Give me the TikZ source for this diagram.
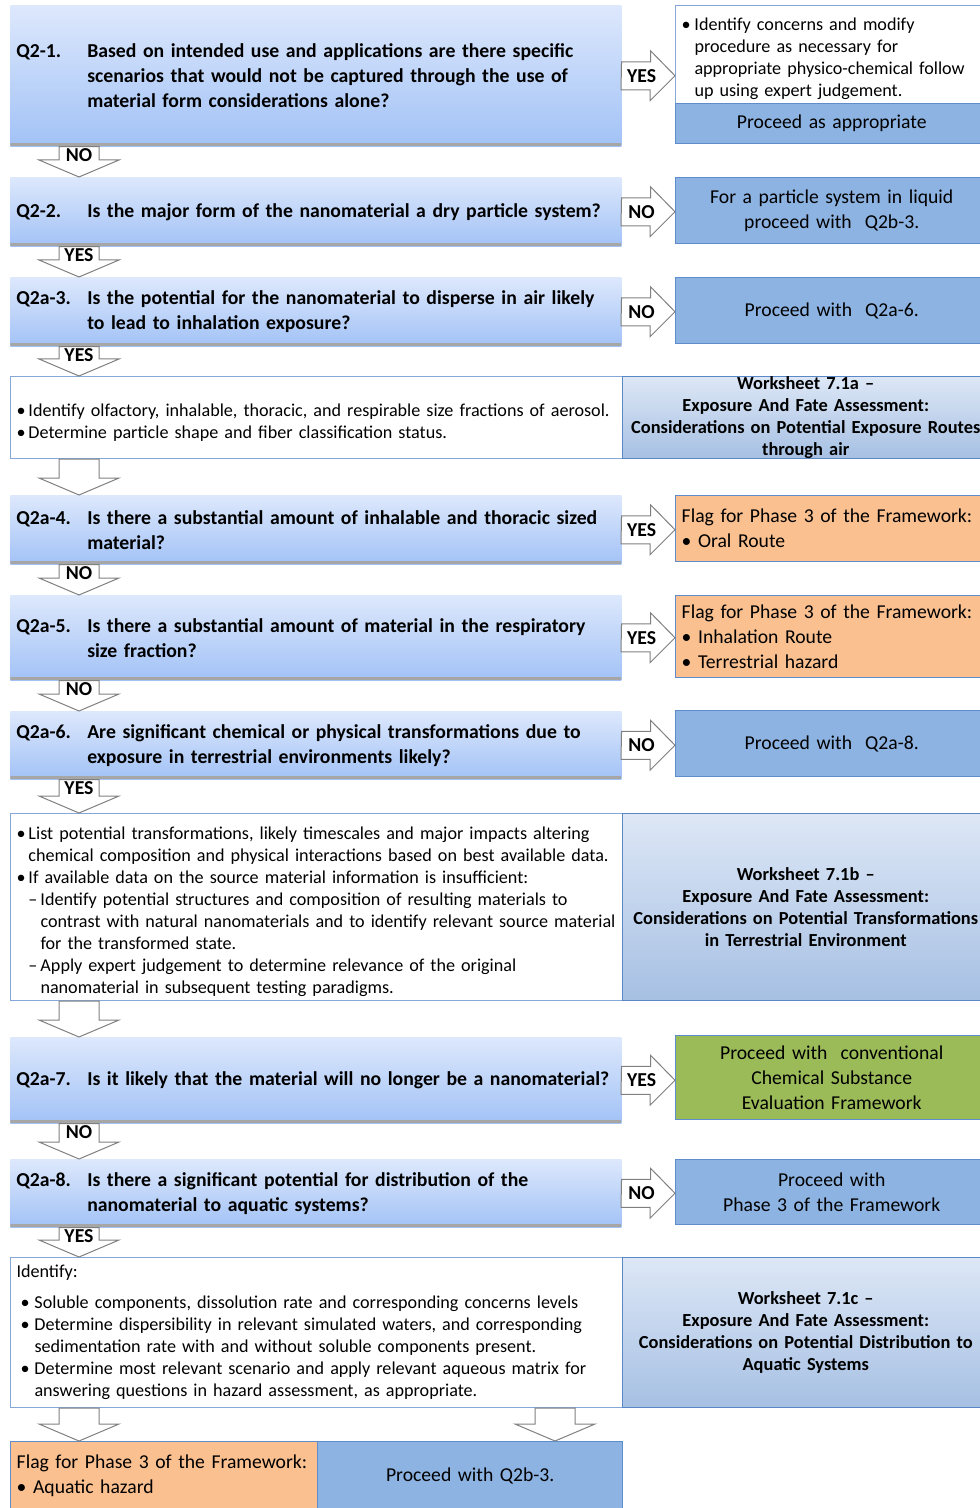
\documentclass[tikz,border=0pt]{standalone}
\usepackage{fontspec}
\setmainfont{Carlito}

\definecolor{qtop}{HTML}{DDE8FC}
\definecolor{qbot}{HTML}{A2C2F6}
\definecolor{shadowgray}{HTML}{A6A6A6}
\definecolor{rblue}{HTML}{8DB3E2}
\definecolor{rborder}{HTML}{5F8DCB}
\definecolor{rorange}{HTML}{FAC08F}
\definecolor{rgreen}{HTML}{9BBB59}
\definecolor{wtop}{HTML}{DDE7F6}
\definecolor{wbot}{HTML}{A6C0E3}
\definecolor{wborder}{HTML}{5A88C6}
\definecolor{iborder}{HTML}{86A8D8}
\definecolor{arrgray}{HTML}{808080}

%% Fonts
\newcommand{\qfont}{\fontsize{14.8}{18.75}\selectfont\bfseries}
\newcommand{\rfont}{\fontsize{14.75}{18.75}\selectfont}
\newcommand{\ifont}{\fontsize{13.6}{16.5}\selectfont}
\newcommand{\wfont}{\fontsize{13.8}{16.5}\selectfont\bfseries}
\newcommand{\lfont}{\fontsize{14.8}{15}\selectfont\bfseries}

%% Question text with hanging number
\newcommand{\qtext}[2]{{\let\\\newline\hangindent=53.25pt\hangafter=1\noindent
  \makebox[53.25pt][l]{#1}#2\par}}
%% List item: indent, mark width, mark, text
\newcommand{\litem}[4]{\par{\let\\\newline\hangindent=\dimexpr#1+#2\relax\hangafter=1\noindent
  \hspace*{#1}\makebox[#2][l]{#3}#4\par}}

%% Block arrow down: from, to, column, label
\newcommand{\darr}[4]{%
  \coordinate (da) at (#3 |- #1.south);
  \coordinate (db) at (#3 |- #2.north);
  \draw[blockarr] ([xshift=-15pt]da) -- ([xshift=-15pt,yshift=12.75pt]db) -- ++(-20,0)
    -- (db) -- ++(40,-17) -- ++(-20,0) -- ([xshift=15pt]da) -- cycle;
  \if\relax\detokenize{#4}\relax\else
    \node[arrlabel, anchor=north] at (da) {#4};
  \fi}
%% Block arrow right: from, to, label
\newcommand{\rarr}[3]{%
  \draw[blockarr] ([yshift=10.5pt]#1.east) -- ++(29,0) -- ++(0,-11) -- (#2.west |- #1.east)
    -- ++(-25,25) -- ++(0,-11) -- ++(-29,0) -- cycle;
  \node[arrlabel] at ([xshift=15pt]#1.east) {#3};}

\begin{document}
\begin{tikzpicture}[x=0.75pt, y=-0.75pt,
    qbox/.style={anchor=north west, minimum width=458.25pt, text width=449.25pt,
      inner xsep=4.5pt, inner ysep=0pt, align=left, font=\qfont,
      top color=qtop, bottom color=qbot,
      path picture={\fill[shadowgray] ([yshift=2.25pt]path picture bounding box.south west)
        rectangle (path picture bounding box.south east);}},
    rbox/.style={anchor=north west, minimum width=234pt, text width=225pt,
      inner xsep=4.5pt, inner ysep=0pt, align=center, font=\rfont,
      fill=rblue, draw=rborder, line width=1.1pt},
    ibox/.style={anchor=north west, minimum width=459pt, text width=450pt,
      inner xsep=4.5pt, inner ysep=0pt, align=left, font=\ifont,
      fill=white, draw=iborder, line width=0.75pt},
    wbox/.style={anchor=north west, minimum width=274.5pt, text width=270pt,
      inner xsep=2.25pt, inner ysep=0pt, align=center, font=\wfont,
      top color=wtop, bottom color=wbot, draw=wborder, line width=1.1pt},
    blockarr/.style={fill=white, draw=arrgray, line width=0.75pt, line join=miter},
    arrlabel/.style={font=\lfont, inner sep=1pt}]

  %% Page
  \useasboundingbox (0,0) rectangle (979,1508);
  \fill[white] (0,0) rectangle (979,1508);
  \coordinate (colL) at (79,0);
  \coordinate (colR) at (555,0);

  %% Questions
  \node[qbox, minimum height=105.75pt] (q1) at (10,5)
    {\qtext{Q2-1.}{Based on intended use and applications are there specific\\
     scenarios that would not be captured through the use of\\
     material form considerations alone?}};
  \node[qbox, minimum height=51.75pt] (q2) at (10,177)
    {\qtext{Q2-2.}{Is the major form of the nanomaterial a dry particle system?}};
  \node[qbox, minimum height=51.75pt] (q3) at (10,277)
    {\qtext{Q2a-3.}{Is the potential for the nanomaterial to disperse in air likely\\
     to lead to inhalation exposure?}};
  \node[qbox, minimum height=51.75pt] (q4) at (10,495)
    {\qtext{Q2a-4.}{Is there a substantial amount of inhalable and thoracic sized\\
     material?}};
  \node[qbox, minimum height=63.75pt] (q5) at (10,595)
    {\qtext{Q2a-5.}{Is there a substantial amount of material in the respiratory\\
     size fraction?}};
  \node[qbox, minimum height=51pt] (q6) at (10,711)
    {\qtext{Q2a-6.}{Are significant chemical or physical transformations due to\\
     exposure in terrestrial environments likely?}};
  \node[qbox, minimum height=64.5pt] (q7) at (10,1037)
    {\qtext{Q2a-7.}{Is it likely that the material will no longer be a nanomaterial?}};
  \node[qbox, minimum height=51pt] (q8) at (10,1159)
    {\qtext{Q2a-8.}{Is there a significant potential for distribution of the\\
     nanomaterial to aquatic systems?}};

  %% Information boxes and worksheets
  \node[ibox, minimum height=61.5pt] (i1) at (10,376)
    {\litem{0pt}{9pt}{\textbullet}{Identify olfactory, inhalable, thoracic, and respirable size fractions of aerosol.}
     \litem{0pt}{9pt}{\textbullet}{Determine particle shape and fiber classification status.}};
  \node[wbox, minimum height=61.5pt] (w1) at (622,376)
    {Worksheet 7.1a --\\Exposure And Fate Assessment:\\
     Considerations on Potential Exposure Routes\\through air};
  \node[ibox, minimum height=140.25pt] (i2) at (10,813)
    {\litem{0pt}{9pt}{\textbullet}{List potential transformations, likely timescales and major impacts altering\\
       chemical composition and physical interactions based on best available data.}
     \litem{0pt}{9pt}{\textbullet}{If available data on the source material information is insufficient:}
     \litem{9pt}{9pt}{--}{Identify potential structures and composition of resulting materials to\\
       contrast with natural nanomaterials and to identify relevant source material\\
       for the transformed state.}
     \litem{9pt}{9pt}{--}{Apply expert judgement to determine relevance of the original\\
       nanomaterial in subsequent testing paradigms.}};
  \node[wbox, minimum height=140.25pt] (w2) at (622,813)
    {Worksheet 7.1b --\\Exposure And Fate Assessment:\\
     Considerations on Potential Transformations\\in Terrestrial Environment};
  \node[ibox, minimum height=112.5pt] (i3) at (10,1257)
    {\noindent Identify:\par\vspace{6.75pt}
     \litem{3pt}{10.5pt}{\textbullet}{Soluble components, dissolution rate and corresponding concerns levels}
     \litem{3pt}{10.5pt}{\textbullet}{Determine dispersibility in relevant simulated waters, and corresponding\\
       sedimentation rate with and without soluble components present.}
     \litem{3pt}{10.5pt}{\textbullet}{Determine most relevant scenario and apply relevant aqueous matrix for\\
       answering questions in hazard assessment, as appropriate.}};
  \node[wbox, minimum height=112.5pt] (w3) at (622,1257)
    {Worksheet 7.1c --\\Exposure And Fate Assessment:\\
     Considerations on Potential Distribution to\\Aquatic Systems};

  %% Outcomes
  \node[ibox, minimum width=234pt, text width=225pt, minimum height=73.5pt] (r1a) at (675,5)
    {\litem{0pt}{9.75pt}{\textbullet}{Identify concerns and modify\\procedure as necessary for\\
       appropriate physico-chemical follow\\up using expert judgement.}};
  \node[rbox, minimum height=30pt] (r1b) at (675,103) {Proceed as appropriate};
  \node[rbox, minimum height=49.5pt] (r2) at (675,177)
    {For a particle system in liquid\\proceed with~ Q2b-3.};
  \node[rbox, minimum height=49.5pt] (r3) at (675,277) {Proceed with~ Q2a-6.};
  \node[rbox, minimum height=49.5pt, fill=rorange, align=left] (r4) at (675,495)
    {Flag for Phase 3 of the Framework:\\\textbullet\ Oral Route};
  \node[rbox, minimum height=61.5pt, fill=rorange, align=left] (r5) at (675,595)
    {Flag for Phase 3 of the Framework:\\\textbullet\ Inhalation Route\\\textbullet\ Terrestrial hazard};
  \node[rbox, minimum height=49.5pt] (r6) at (675,710) {Proceed with~ Q2a-8.};
  \node[rbox, minimum height=63pt, fill=rgreen] (r7) at (675,1035)
    {Proceed with~ conventional\\Chemical Substance\\Evaluation Framework};
  \node[rbox, minimum height=48.75pt] (r8) at (675,1159)
    {Proceed with\\Phase 3 of the Framework};
  \node[rbox, minimum width=230.25pt, text width=221.25pt, minimum height=51.75pt,
    fill=rorange, align=left] (b1) at (10,1441)
    {Flag for Phase 3 of the Framework:\\\textbullet\ Aquatic hazard};
  \node[rbox, minimum width=228.75pt, text width=219.75pt, minimum height=51.75pt] (b2) at (317,1441)
    {Proceed with Q2b-3.};

  %% Arrows
  \rarr{q1}{r1a}{YES}
  \darr{q1}{q2}{colL}{NO}
  \rarr{q2}{r2}{NO}
  \darr{q2}{q3}{colL}{YES}
  \rarr{q3}{r3}{NO}
  \darr{q3}{i1}{colL}{YES}
  \darr{i1}{q4}{colL}{}
  \rarr{q4}{r4}{YES}
  \darr{q4}{q5}{colL}{NO}
  \rarr{q5}{r5}{YES}
  \darr{q5}{q6}{colL}{NO}
  \rarr{q6}{r6}{NO}
  \darr{q6}{i2}{colL}{YES}
  \darr{i2}{q7}{colL}{}
  \rarr{q7}{r7}{YES}
  \darr{q7}{q8}{colL}{NO}
  \rarr{q8}{r8}{NO}
  \darr{q8}{i3}{colL}{YES}
  \darr{i3}{b1}{colL}{}
  \darr{i3}{b2}{colR}{}
\end{tikzpicture}
\end{document}
